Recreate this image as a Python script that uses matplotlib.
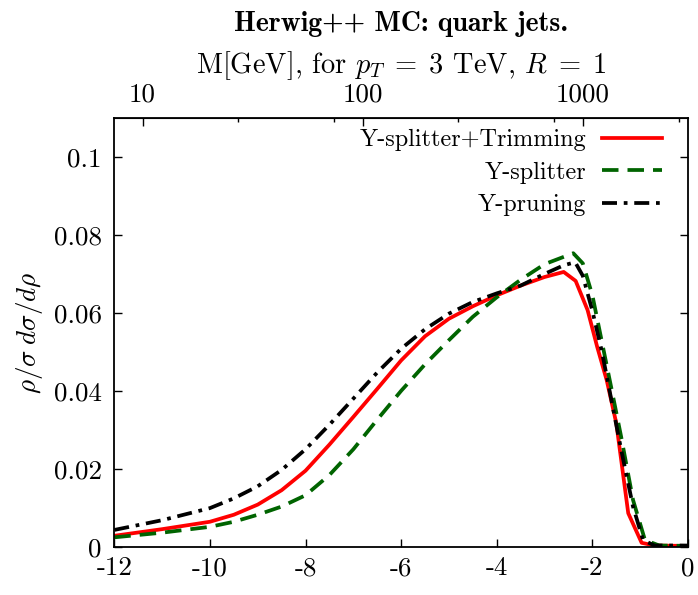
import numpy as np
import matplotlib
matplotlib.use("Agg")
import matplotlib.pyplot as plt

plt.rcParams['font.family'] = 'cmr10'
plt.rcParams['mathtext.fontset'] = 'cm'
plt.rcParams['axes.unicode_minus'] = False
plt.rcParams['axes.formatter.use_mathtext'] = True

# ln(rho) values, one list per curve
x_trim = [-12, -11, -10, -9.5, -9, -8.5, -8, -7.5, -7, -6.5, -6, -5.5, -5, -4.5, -4,
          -3.5, -3, -2.6, -2.35, -2.1, -1.9, -1.7, -1.5, -1.25, -0.97, -0.7, 0]
y_trim = [0.0028, 0.0045, 0.0064, 0.0082, 0.0108, 0.0145, 0.0195, 0.0262, 0.0333, 0.0405,
          0.0478, 0.0540, 0.0585, 0.0617, 0.0645, 0.0670, 0.0692, 0.0705, 0.0682, 0.0607,
          0.0513, 0.0427, 0.0317, 0.0086, 0.0010, 0.0003, 0.0002]

x_ysplit = [-12, -11, -10, -9.5, -9, -8.5, -8, -7.5, -7, -6.5, -6, -5.5, -5, -4.5, -4,
            -3.5, -3, -2.4, -2.2, -2.0, -1.8, -1.6, -1.4, -1.15, -0.9, -0.6, 0]
y_ysplit = [0.0024, 0.0036, 0.0051, 0.0064, 0.0082, 0.0103, 0.0132, 0.0184, 0.0250, 0.0326,
            0.0400, 0.0468, 0.0530, 0.0590, 0.0640, 0.0685, 0.0725, 0.0753, 0.0727, 0.0645,
            0.0525, 0.0405, 0.0283, 0.0120, 0.0017, 0.0003, 0.0002]

x_yprune = [-12, -11, -10, -9.5, -9, -8.5, -8, -7.5, -7, -6.5, -6, -5.5, -5, -4.5, -4,
            -3.5, -3, -2.6, -2.36, -2.2, -2.0, -1.8, -1.6, -1.4, -1.15, -0.94, -0.7, 0]
y_yprune = [0.0043, 0.0068, 0.0099, 0.0124, 0.0155, 0.0197, 0.0250, 0.0313, 0.0380, 0.0447,
            0.0508, 0.0558, 0.0598, 0.0628, 0.0650, 0.0670, 0.0700, 0.0722, 0.0730, 0.0695,
            0.0605, 0.0500, 0.0375, 0.0250, 0.0103, 0.0017, 0.0003, 0.0003]

xticks = [-12, -10, -8, -6, -4, -2, 0]
xtick_labels = ['-12', '-10', '-8', '-6', '-4', '-2', '0']
yticks = [0, 0.02, 0.04, 0.06, 0.08, 0.1]
ytick_labels = ['0', '0.02', '0.04', '0.06', '0.08', '0.1']
mass_ticks = [10, 100, 1000]
mass_labels = ['10', '100', '1000']
pt = 3000.0

fs = 19.5

fig = plt.figure(figsize=(6.98, 5.95), dpi=100)
ax = fig.add_axes([114.3 / 698, 48.3 / 595, (688 - 114.3) / 698, (546.7 - 118) / 595])

ax.plot(x_trim, y_trim, color='#ff0000', lw=2.7, label='Y-splitter+Trimming')
ax.plot(x_ysplit, y_ysplit, color='#006400', lw=2.7, dashes=(4.4, 2.4), label='Y-splitter')
ax.plot(x_yprune, y_yprune, color='black', lw=2.7, dashes=(4.0, 1.8, 1.0, 1.8), label='Y-pruning')

ax.set_xlim(-12, 0)
ax.set_ylim(0, 0.11)
ax.set_xticks(xticks, labels=xtick_labels)
ax.set_yticks(yticks, labels=ytick_labels)
ax.tick_params(axis='x', direction='in', length=6, width=1, labelsize=fs, pad=7, top=False)
ax.tick_params(axis='y', direction='in', length=6, width=1, labelsize=fs, pad=9, right=True)
for s in ax.spines.values():
    s.set_linewidth(1.3)

ax.set_ylabel(r'$\rho/\sigma\; d\sigma/d\rho$', fontsize=fs, labelpad=6)
ax.set_xlabel(r'$\ln\rho$', fontsize=fs, labelpad=10)


def to_mass(x):
    return pt * np.exp(np.asarray(x) / 2.0)


def to_lnrho(m):
    return 2.0 * np.log(np.maximum(np.asarray(m, dtype=float), 1e-9) / pt)


sec = ax.secondary_xaxis('top', functions=(to_mass, to_lnrho))
sec.set_xticks(mass_ticks, labels=mass_labels)
sec.set_xticks([m * np.e ** k for m in mass_ticks for k in (1, 2) if m * np.e ** k < pt], minor=True)
sec.tick_params(which='major', direction='in', length=6, width=1, labelsize=fs, pad=8.5)
sec.tick_params(which='minor', direction='in', length=3, width=1)
sec.set_xlabel(r'M[GeV], for $p_T\;=\;3$ TeV, $R\;=\;1$', fontsize=20.5, labelpad=7)

fig.text(401 / 698, 1 - 24 / 595, 'Herwig++ MC: quark jets.', family='cmb10',
         fontsize=20, ha='center', va='center')

ax.legend(loc='upper right', frameon=False, markerfirst=False, fontsize=17.5,
          handlelength=2.45, handletextpad=0.65, labelspacing=0.42,
          borderaxespad=0.0, borderpad=0.3, bbox_to_anchor=(1 - 19 / 573, 1 - 4 / 428))

fig.savefig('out.png', dpi=100)
